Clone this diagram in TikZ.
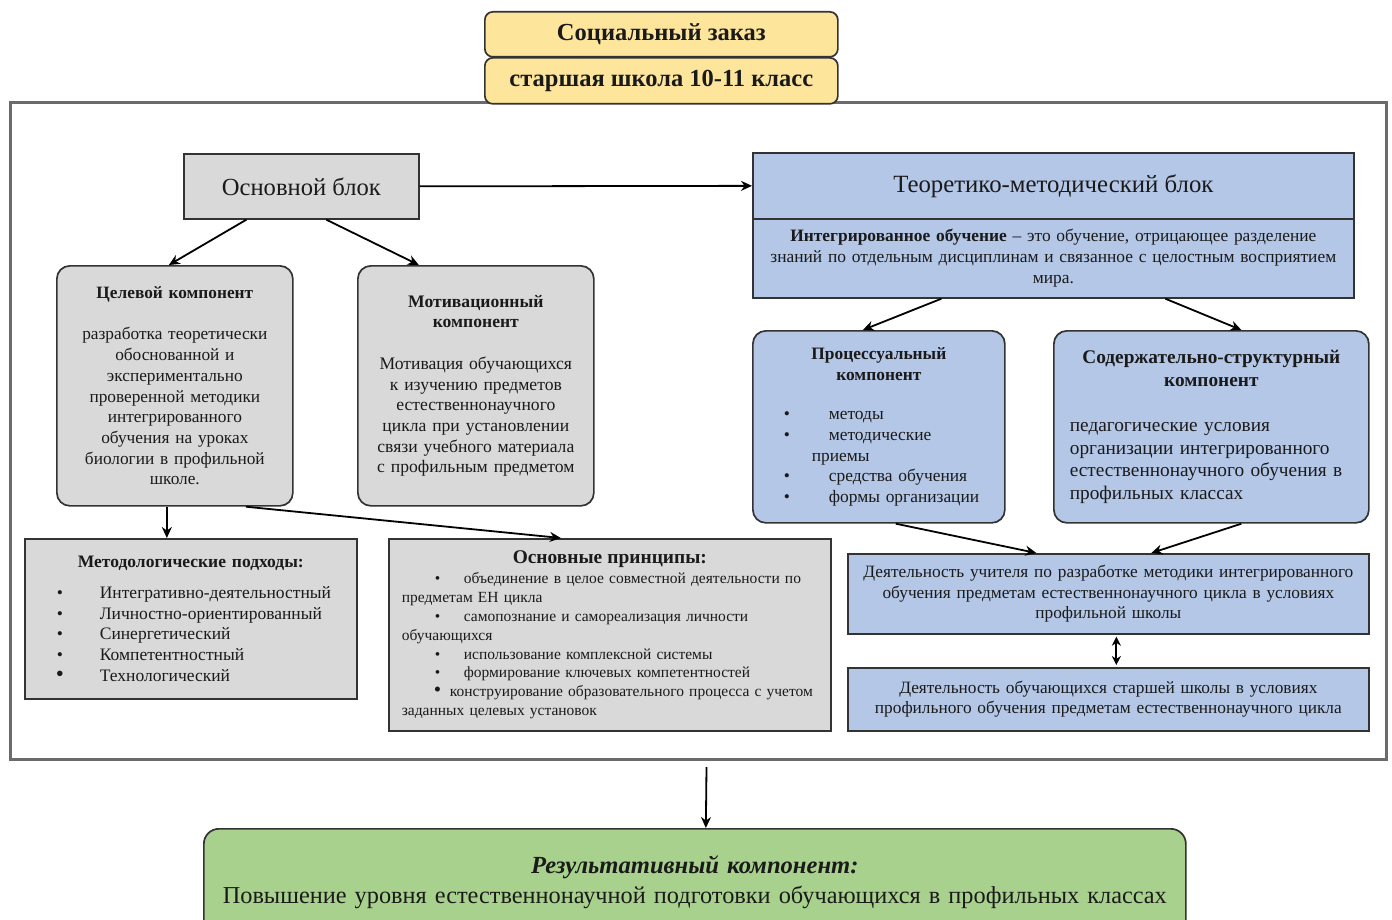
\documentclass[tikz,border=0pt]{standalone}
\usepackage{fontspec}
\setmainfont{Liberation Serif}
\usetikzlibrary{arrows.meta}
\definecolor{yel}{HTML}{FDE59C}
\definecolor{gry}{HTML}{D9D9D9}
\definecolor{blu}{HTML}{B4C7E7}
\definecolor{grn}{HTML}{A9D18E}
\definecolor{edge}{HTML}{333333}
\definecolor{frm}{HTML}{6B6B6B}
\definecolor{txt}{HTML}{1A1A1A}
\newcommand{\fs}[2]{\fontsize{#1}{#2}\selectfont}
\newcommand{\bul}[2]{\hspace*{#1}\makebox[#2][l]{\textbullet}}
\newcommand{\ctr}[2]{\makebox[#1]{#2}}
\begin{document}
\begin{tikzpicture}[x=1pt,y=-1pt,
 box/.style={draw=edge, line width=1.7pt, inner sep=0pt, anchor=north west, align=center, text=txt},
 arr/.style={draw=black, line width=1.8pt, -{Stealth[length=11pt,width=10pt]}},
 darr/.style={draw=black, line width=1.8pt, {Stealth[length=9pt,width=9pt]}-{Stealth[length=9pt,width=9pt]}},
]
\useasboundingbox[fill=white] (0,0) rectangle (1392,920);

% outer frame
\node[draw=frm, line width=3pt, anchor=north west, minimum width=1376pt, minimum height=657pt, inner sep=0pt] (frame) at (9,101) {};

% header
\node[box, fill=yel, rounded corners=8pt, minimum width=353pt, minimum height=45pt, font=\fs{24.5}{28}\bfseries] (soc) at (484,11) {Социальный заказ};
\node[box, fill=yel, rounded corners=8pt, minimum width=353pt, minimum height=46pt, font=\fs{24.5}{28}\bfseries] (school) at (484,57) {старшая школа 10-11 класс};

% main block
\node[box, fill=gry, minimum width=235pt, minimum height=65pt, font=\fs{24.6}{28}] (osn) at (183,153) {Основной блок};

\node[box, fill=blu, minimum width=601pt, minimum height=66pt, font=\fs{24.8}{28}] (tm) at (752,152) {Теоретико-методический блок};
\node[box, fill=blu, minimum width=601pt, minimum height=79pt, text width=601pt, font=\fs{17.4}{21}] (tmdef) at (752,218)
 {\textbf{Интегрированное обучение} – это обучение, отрицающее разделение\\ знаний по отдельным дисциплинам и связанное с целостным восприятием\\ мира.};

\node[box, fill=gry, rounded corners=13pt, minimum width=236pt, minimum height=240pt, text width=236pt, font=\fs{17.3}{20.7}] (cel) at (56,265)
 {\textbf{Целевой компонент}\\[20.7pt] разработка теоретически\\ обоснованной и\\ экспериментально\\ проверенной методики\\ интегрированного\\ обучения на уроках\\ биологии в профильной\\ школе.};

\node[box, fill=gry, rounded corners=13pt, minimum width=236pt, minimum height=240pt, text width=236pt, font=\fs{17.6}{20.7}] (mot) at (357,265)
 {\textbf{Мотивационный}\\ \textbf{компонент}\\[20.7pt] Мотивация обучающихся\\ к изучению предметов\\ естественнонаучного\\ цикла при установлении\\ связи учебного материала\\ с профильным предметом};

\node[box, fill=blu, rounded corners=13pt, minimum width=252pt, minimum height=192pt, text width=252pt, align=left, font=\fs{17.4}{20.7}] (proc) at (752,330)
 {\ctr{252pt}{\bfseries Процессуальный}\\
  \ctr{252pt}{\bfseries компонент}\\[19pt]
  \bul{31pt}{45pt}методы\\
  \bul{31pt}{45pt}методические\\
  \hspace*{59pt}приемы\\
  \bul{31pt}{45pt}средства обучения\\
  \bul{31pt}{45pt}формы организации};

\node[box, fill=blu, rounded corners=13pt, minimum width=315pt, minimum height=192pt, text width=315pt, align=left, font=\fs{19.3}{22.6}] (sod) at (1053,330)
 {\ctr{315pt}{\bfseries Содержательно-структурный}\\
  \ctr{315pt}{\bfseries компонент}\\[23pt]
  \hspace*{16pt}педагогические условия\\
  \hspace*{16pt}организации интегрированного\\
  \hspace*{16pt}естественнонаучного обучения в\\
  \hspace*{16pt}профильных классах};

\node[box, fill=gry, minimum width=332pt, minimum height=160pt, text width=332pt, align=left, font=\fs{17.5}{20.7}] (meth) at (24,538)
 {\ctr{332pt}{\bfseries Методологические подходы:}\\[10pt]
  \bul{32pt}{43pt}Интегративно-деятельностный\\
  \bul{32pt}{43pt}Личностно-ориентированный\\
  \bul{32pt}{43pt}Синергетический\\
  \bul{32pt}{43pt}Компетентностный\\
  \hspace*{31pt}\makebox[44pt][l]{\fs{23}{20.7}\textbullet}Технологический};

\node[box, fill=gry, minimum width=442pt, minimum height=192pt, text width=442pt, align=left, font=\fs{15.5}{18.9}] (princ) at (388,538)
 {\ctr{442pt}{\fs{19.4}{22}\bfseries Основные принципы:}\\[1pt]
  \bul{46pt}{29pt}объединение в целое совместной деятельности по\\
  \hspace*{13pt}предметам ЕН цикла\\
  \bul{46pt}{29pt}самопознание и самореализация личности\\
  \hspace*{13pt}обучающихся\\
  \bul{46pt}{29pt}использование комплексной системы\\
  \bul{46pt}{29pt}формирование ключевых компетентностей\\
  \hspace*{45pt}\makebox[16pt][l]{\fs{21}{18.9}\textbullet}конструирование образовательного процесса с учетом\\
  \hspace*{13pt}заданных целевых установок};

\node[box, fill=blu, minimum width=521pt, minimum height=80pt, text width=521pt, font=\fs{17.3}{20.5}] (teach) at (847,553)
 {Деятельность учителя по разработке методики интегрированного\\ обучения предметам естественнонаучного цикла в условиях\\ профильной школы};

\node[box, fill=blu, minimum width=521pt, minimum height=63pt, text width=521pt, font=\fs{17.3}{20.5}] (stud) at (847,667)
 {Деятельность обучающихся старшей школы в условиях\\ профильного обучения предметам естественнонаучного цикла};

\node[box, fill=grn, rounded corners=15pt, minimum width=982pt, minimum height=106pt, text width=982pt, font=\fs{24.3}{30}] (res) at (203,828)
 {{\fs{24.6}{30}\bfseries\itshape Результативный компонент:}\\ Повышение уровня естественнонаучной подготовки обучающихся в профильных классах};

% connectors
\draw[arr] (osn.east) -- (tm.west);
\draw[arr] ([xshift=-55pt]osn.south) -- ([xshift=-6pt]cel.north);
\draw[arr] ([xshift=25pt]osn.south) -- ([xshift=-57pt]mot.north);
\draw[arr] ([xshift=-112pt]tmdef.south) -- ([xshift=-16pt]proc.north);
\draw[arr] ([xshift=112pt]tmdef.south) -- ([xshift=30pt]sod.north);
\draw[arr] ([xshift=17pt]proc.south) -- ([xshift=-72pt]teach.north);
\draw[arr] ([xshift=30pt]sod.south) -- ([xshift=43pt]teach.north);
\draw[darr] ([xshift=8pt,yshift=-2pt]teach.south) -- ([xshift=8pt,yshift=2pt]stud.north);
\draw[arr] ([xshift=-8pt]cel.south) -- ([xshift=-24pt]meth.north);
\draw[arr] ([xshift=71pt]cel.south) -- ([xshift=-49pt]princ.north);
\draw[arr] ([xshift=8pt,yshift=-6pt]frame.south) -- ([xshift=11pt]res.north);
\end{tikzpicture}
\end{document}
